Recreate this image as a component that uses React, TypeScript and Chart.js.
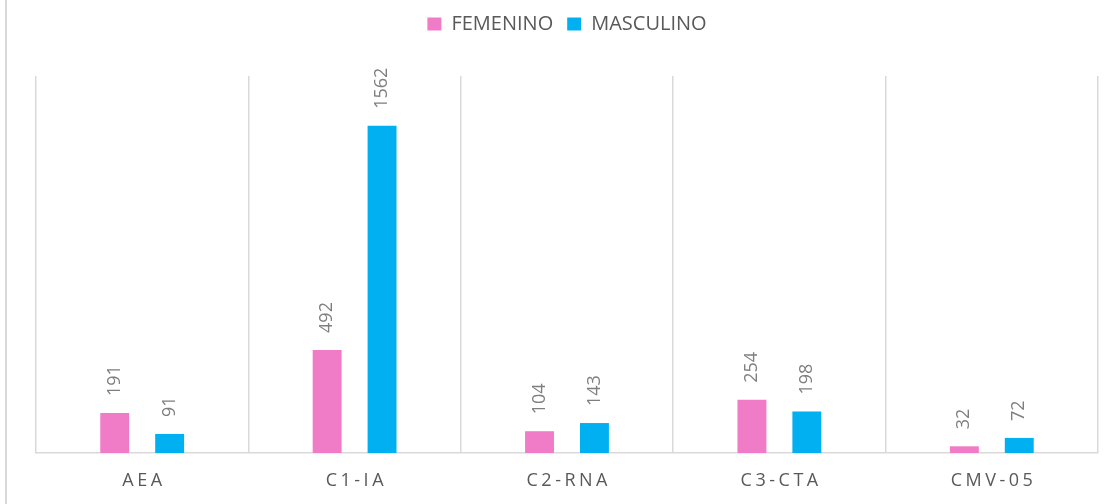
import React, { useEffect, useRef } from "react";
import { Chart, registerables } from "chart.js";

Chart.register(...registerables);

const categories = ["AEA", "C1-IA", "C2-RNA", "C3-CTA", "CMV-05"];
const femenino = [191, 492, 104, 254, 32];
const masculino = [91, 1562, 143, 198, 72];
const seriesNames = ["FEMENINO", "MASCULINO"];
const yMax = 1800;

const FONT = "'Open Sans', 'Liberation Sans', sans-serif";

export default function App() {
  const ref = useRef<HTMLCanvasElement | null>(null);

  useEffect(() => {
    if (!ref.current) return;

    const legendSpacer = {
      id: "legendSpacer",
      beforeInit(chart: any) {
        const legend = chart.legend;
        if (!legend) return;
        const orig = legend.fit;
        legend.fit = function () {
          orig.call(this);
          this.height += 32;
        };
      },
    };

    const valueLabels = {
      id: "valueLabels",
      afterDatasetsDraw(chart: any) {
        const ctx = chart.ctx;
        ctx.save();
        ctx.fillStyle = "#7F7F7F";
        ctx.font = `18px ${FONT}`;
        ctx.textAlign = "left";
        ctx.textBaseline = "middle";
        chart.data.datasets.forEach((ds: any, di: number) => {
          const meta = chart.getDatasetMeta(di);
          meta.data.forEach((bar: any, i: number) => {
            ctx.save();
            ctx.translate(bar.x, bar.y - 17);
            ctx.rotate(-Math.PI / 2);
            ctx.fillText(String(ds.data[i]), 0, 0);
            ctx.restore();
          });
        });
        ctx.restore();
      },
    };

    const spacedTicks = {
      id: "spacedTicks",
      afterDraw(chart: any) {
        const ctx = chart.ctx;
        const xs = chart.scales.x;
        const spacing = 3.5;
        ctx.save();
        ctx.fillStyle = "#595959";
        ctx.font = `18px ${FONT}`;
        (ctx as any).letterSpacing = `${spacing}px`;
        ctx.textAlign = "center";
        ctx.textBaseline = "middle";
        categories.forEach((c, i) => {
          const x = xs.getPixelForValue(i);
          ctx.fillText(c, x + spacing / 2, chart.chartArea.bottom + 28);
        });
        ctx.restore();
      },
    };

    const chart = new Chart(ref.current, {
      type: "bar",
      data: {
        labels: categories,
        datasets: [
          {
            label: seriesNames[0],
            data: femenino,
            backgroundColor: "#F07CC7",
            categoryPercentage: 0.517,
            barPercentage: 0.527,
          },
          {
            label: seriesNames[1],
            data: masculino,
            backgroundColor: "#00B0F0",
            categoryPercentage: 0.517,
            barPercentage: 0.527,
          },
        ],
      },
      options: {
        animation: false,
        responsive: false,
        maintainAspectRatio: false,
        layout: { padding: { left: 36, right: 18, top: 0, bottom: 51 } },
        plugins: {
          legend: {
            position: "top",
            labels: {
              font: { family: FONT, size: 20 },
              color: "#595959",
              boxWidth: 14,
              boxHeight: 13,
              padding: 14,
            },
          },
          tooltip: { enabled: false },
        },
        scales: {
          x: {
            grid: { color: "#D9D9D9", lineWidth: 1.5, drawTicks: false, offset: true },
            border: { display: true, color: "#D9D9D9", width: 1.5 },
            ticks: { display: false },
          },
          y: {
            display: false,
            min: 0,
            max: yMax,
          },
        },
      },
      plugins: [legendSpacer, valueLabels, spacedTicks],
    });

    return () => chart.destroy();
  }, []);

  return (
    <div style={{ position: "absolute", left: 0, top: 0, width: 1116, height: 504, background: "#fff" }}>
      <div style={{ position: "absolute", left: 5, top: 0, width: 2, height: 504, background: "#D9D9D9" }} />
      <canvas ref={ref} width={1116} height={504} style={{ position: "absolute", left: 0, top: 0 }} />
    </div>
  );
}
